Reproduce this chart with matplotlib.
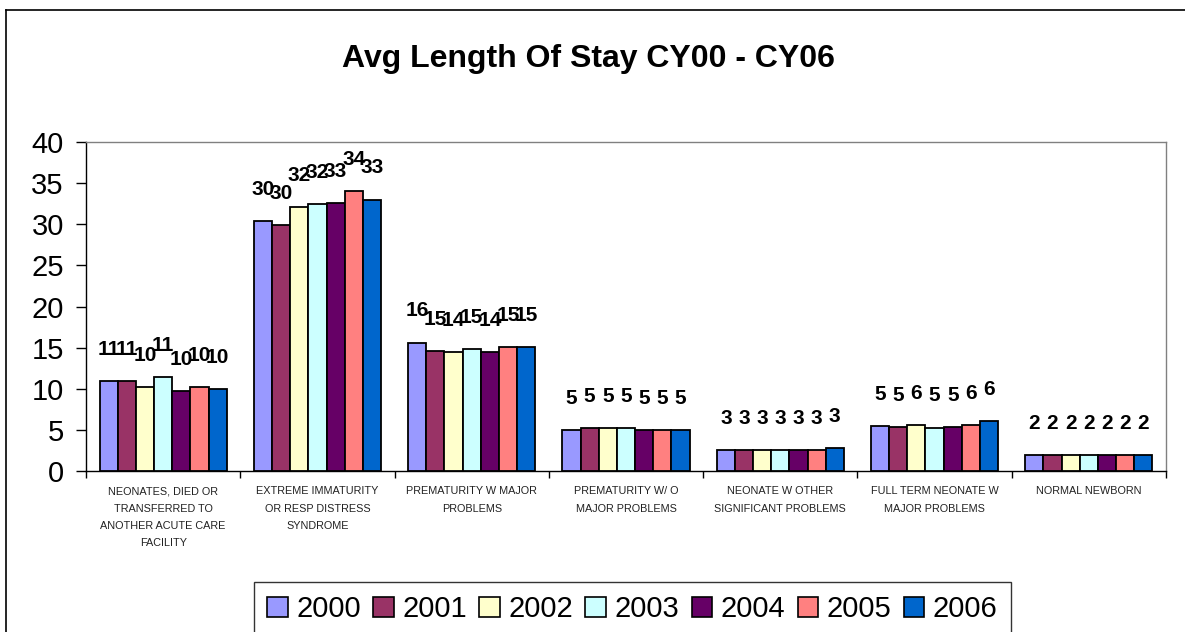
import numpy as np
import matplotlib
matplotlib.use("Agg")
import matplotlib.pyplot as plt
from matplotlib.patches import Patch
from matplotlib.lines import Line2D

plt.rcParams['font.family'] = ['Liberation Sans', 'DejaVu Sans']

categories = [
    "NEONATES, DIED OR\nTRANSFERRED TO\nANOTHER ACUTE CARE\nFACILITY",
    "EXTREME IMMATURITY\nOR RESP DISTRESS\nSYNDROME",
    "PREMATURITY W MAJOR\nPROBLEMS",
    "PREMATURITY W/ O\nMAJOR PROBLEMS",
    "NEONATE W OTHER\nSIGNIFICANT PROBLEMS",
    "FULL TERM NEONATE W\nMAJOR PROBLEMS",
    "NORMAL NEWBORN",
]
years = ["2000", "2001", "2002", "2003", "2004", "2005", "2006"]

# one list per year, values per category
y2000 = [10.94, 30.4, 15.6, 5.0, 2.58, 5.45, 1.9]
y2001 = [10.94, 29.9, 14.55, 5.24, 2.58, 5.3, 1.9]
y2002 = [10.17, 32.06, 14.45, 5.24, 2.58, 5.55, 1.9]
y2003 = [11.43, 32.45, 14.8, 5.24, 2.58, 5.28, 1.9]
y2004 = [9.73, 32.55, 14.45, 5.0, 2.52, 5.3, 1.9]
y2005 = [10.17, 34.0, 15.1, 5.0, 2.52, 5.55, 1.9]
y2006 = [10.0, 33.0, 15.1, 5.0, 2.82, 6.06, 1.9]
series = [y2000, y2001, y2002, y2003, y2004, y2005, y2006]

colors = ["#9999FF", "#993366", "#FFFFCC", "#CCFFFF", "#660066", "#FF8080", "#0066CC"]

W, H = 1185, 632
fig = plt.figure(figsize=(W / 100, H / 100), dpi=100)
ax = fig.add_axes([86 / W, 1 - 471 / H, (1166 - 86) / W, (471 - 142) / H])

x = np.arange(len(categories))
bw = 1 / 8.5
for i, (vals, c) in enumerate(zip(series, colors)):
    pos = x + (i - 3) * bw
    ax.bar(pos, vals, width=bw, color=c, edgecolor="black", linewidth=1.3, zorder=3)
    for px, v in zip(pos, vals):
        ax.annotate("%.0f" % v, (px, v), xytext=(0, 16), textcoords="offset points",
                    ha="center", va="bottom", fontsize=15, fontweight="bold")

ax.set_xlim(-0.5, len(categories) - 0.5)
ax.set_ylim(0, 40)
ax.set_yticks(np.arange(0, 41, 5))
ax.tick_params(axis="y", labelsize=21, length=7, width=1, direction="out", pad=9)

ax.set_xticks(x)
ax.set_xticklabels(categories, fontsize=7.8, color="#222222")
ax.tick_params(axis="x", which="major", length=0, pad=11)
for lbl in ax.get_xticklabels():
    lbl.set_linespacing(1.92)
ax.set_xticks(np.arange(-0.5, len(categories), 1), minor=True)
ax.tick_params(axis="x", which="minor", length=5, width=1)

for s in ["top", "right"]:
    ax.spines[s].set_color("#808080")
for s in ["left", "bottom"]:
    ax.spines[s].set_color("black")
for s in ax.spines.values():
    s.set_linewidth(1)

fig.text(588 / W, 1 - 67 / H, "Avg Length Of Stay CY00 - CY06",
         ha="center", va="baseline", fontsize=23, fontweight="bold")

# outer chart frame (runs off the right and bottom edges)
fig.add_artist(Line2D([6 / W, 6 / W], [0, 1 - 10 / H], transform=fig.transFigure, color="black", lw=1.2))
fig.add_artist(Line2D([6 / W, 1], [1 - 10 / H, 1 - 10 / H], transform=fig.transFigure, color="black", lw=1.2))

handles = [Patch(facecolor=c, edgecolor="black", linewidth=1.2) for c in colors]
leg = fig.legend(handles, years, loc="upper left", bbox_to_anchor=(254 / W, 1 - 582 / H),
                 ncol=7, frameon=True, fancybox=False, shadow=False, fontsize=21,
                 handlelength=0.7, handleheight=0.7, handletextpad=0.3,
                 columnspacing=0.42, borderpad=0.45, borderaxespad=0)
leg.get_frame().set_edgecolor("black")
leg.get_frame().set_linewidth(1)

fig.savefig("out.png", dpi=100)
